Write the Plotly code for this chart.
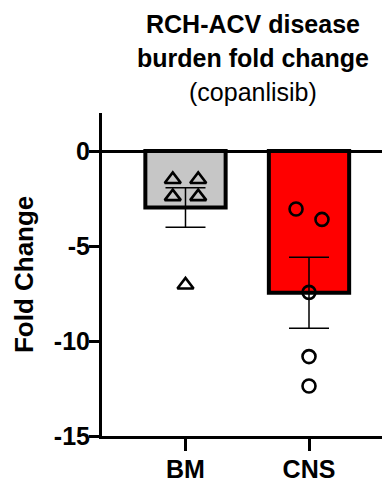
import numpy as np
import plotly.graph_objects as go

# Fold change per animal, grouped by compartment
categories = ["BM", "CNS"]
bm_values = [-1.5, -1.5, -2.4, -2.4, -7.05]
cns_values = [-3.05, -3.6, -7.44, -10.82, -12.37]
y_ticks = [0, -5, -10, -15]

groups = [bm_values, cns_values]
bar_colors = ["#C6C6C6", "#FF0000"]
marker_symbols = ["triangle-up-open", "circle-open"]
marker_sizes = [14, 13]
# horizontal spread of the individual points around each bar centre
point_spread = [[-0.103, 0.103, -0.103, 0.103, 0.0],
                [-0.105, 0.105, 0.0, 0.0, 0.0]]

means = [float(np.mean(g)) for g in groups]
sems = [float(np.std(g, ddof=1) / np.sqrt(len(g))) for g in groups]
xpos = list(range(len(categories)))

FONT = "Liberation Sans, Arial, sans-serif"

fig = go.Figure()

fig.add_trace(go.Bar(
    x=xpos,
    y=means,
    width=0.65,
    marker=dict(color=bar_colors, line=dict(color="black", width=4)),
    error_y=dict(type="data", array=sems, visible=True,
                 color="black", thickness=1.5, width=20),
    showlegend=False,
))

for i, vals in enumerate(groups):
    fig.add_trace(go.Scatter(
        x=[xpos[i] + d for d in point_spread[i]],
        y=vals,
        mode="markers",
        marker=dict(symbol=marker_symbols[i], size=marker_sizes[i], color="black",
                    line=dict(color="black", width=2.6)),
        showlegend=False,
    ))

fig.update_layout(
    width=382,
    height=482,
    margin=dict(l=102, r=0, t=113, b=46),
    paper_bgcolor="white",
    plot_bgcolor="white",
    font=dict(family=FONT, color="black"),
    xaxis=dict(
        range=[-0.676, 1.591],
        tickmode="array",
        tickvals=xpos,
        ticktext=[f"<b>{c}</b>" for c in categories],
        tickfont=dict(size=25, family=FONT, color="black"),
        ticks="outside", ticklen=12, tickwidth=3, tickcolor="black",
        ticklabelstandoff=-3,
        showline=True, linewidth=3, linecolor="black",
        showgrid=False, zeroline=False,
    ),
    yaxis=dict(
        range=[-15, 2],
        tickmode="array",
        tickvals=y_ticks,
        ticktext=[f"<b>{t}</b>" for t in y_ticks],
        tickfont=dict(size=25, family=FONT, color="black"),
        ticks="outside", ticklen=10, tickwidth=3, tickcolor="black",
        ticklabelstandoff=-6,
        showline=True, linewidth=3, linecolor="black",
        showgrid=False,
        zeroline=True, zerolinewidth=3, zerolinecolor="black",
    ),
    annotations=[
        dict(text="<b>Fold Change</b>", textangle=-90,
             x=-0.28, y=0.5, xref="paper", yref="paper",
             xanchor="center", yanchor="middle", showarrow=False,
             font=dict(size=26, family=FONT, color="black")),
        dict(text="<b>RCH-ACV disease</b>",
             x=0.539, y=(436 - 24) / 323, xref="paper", yref="paper",
             xanchor="center", yanchor="middle", showarrow=False,
             font=dict(size=25, family=FONT, color="black")),
        dict(text="<b>burden fold change</b>",
             x=0.539, y=(436 - 58) / 323, xref="paper", yref="paper",
             xanchor="center", yanchor="middle", showarrow=False,
             font=dict(size=25, family=FONT, color="black")),
        dict(text="(copanlisib)",
             x=0.539, y=(436 - 92) / 323, xref="paper", yref="paper",
             xanchor="center", yanchor="middle", showarrow=False,
             font=dict(size=25, family=FONT, color="black")),
    ],
)

fig.write_html("out.html")
